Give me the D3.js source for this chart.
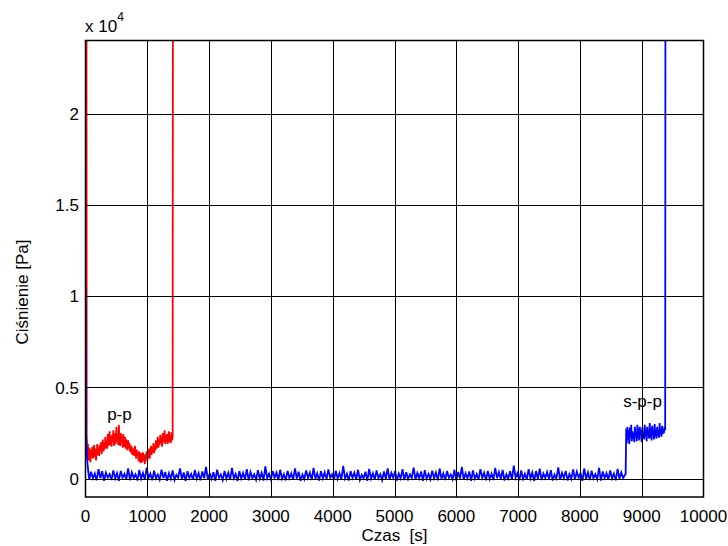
<!DOCTYPE html>
<html>
<head>
<meta charset="utf-8">
<script src="https://cdn.jsdelivr.net/npm/d3@7"></script>
<style>
  body { margin: 0; background: #fff; }
  text { font-family: "Liberation Sans", Arial, sans-serif; fill: #000; }
</style>
</head>
<body>
<svg id="chart"></svg>
<script>
// axis ticks
const xTicks = [0, 1000, 2000, 3000, 4000, 5000, 6000, 7000, 8000, 9000, 10000];
const yTicks = [0, 5000, 10000, 15000, 20000];
const yTickLabels = ['0', '0.5', '1', '1.5', '2'];

// red run (p-p): spike at start, noisy trace sampled every 10 s from t=20, spike at end
const redHead = [[10, 60000]];
const redStart = 20, redStep = 10;
const redValues = [
  2400, 1300, 1900, 1000, 1700, 1150, 900, 1600, 1200, 1750,
  1100, 1500, 1850, 1200, 1650, 1000, 1400, 1900, 1300, 1700,
  1250, 1850, 1500, 2000, 1350, 1750, 2150, 1500, 1950, 1600,
  2300, 1700, 2100, 1650, 2450, 1800, 2200, 2600, 1850, 2300,
  1750, 2400, 2050, 2650, 1800, 2250, 2500, 1900, 2850, 2050,
  2400, 1850, 2950, 2100, 1800, 2500, 2000, 2350, 1700, 2450,
  2050, 1750, 2300, 1650, 2150, 1900, 1550, 2100, 1700, 1950,
  1500, 1850, 1400, 1750, 1300, 1650, 1500, 1250, 1800, 1350,
  1100, 1600, 1250, 1450, 950, 1500, 1150, 850, 1400, 1200,
  900, 1450, 1050, 1300, 800, 1350, 1100, 1500, 950, 1400,
  1200, 1650, 1100, 1550, 1800, 1300, 1700, 1450, 1950, 1400,
  1800, 1550, 2100, 1650, 1950, 2300, 1700, 2150, 1850, 2400,
  1950, 2250, 1750, 2500, 2000, 2200, 2650, 1900, 2350, 2050,
  2450, 1900, 2300, 2600, 2000, 2350, 1950, 2550, 2100, 2300
];
const redTail = [[1420, 60000]];

// blue run (s-p-p): start transient, low baseline every 30 s, raised section every 10 s, spike at end
const blueHead = [[0, 10500], [10, 2200], [20, 1500], [30, 900], [45, 400]];
const blueBaseStart = 60, blueBaseStep = 30;
const blueBaseValues = [
  -60, 380, 20, 290, -90, 520, 30, 410, -110, 330, 60, 250, -70, 460, 10, 300, -120, 430, 50, 270,
  -30, 560, -80, 350, 40, 240, -100, 480, 0, 320, -60, 610, 50, 280, -90, 440, 20, 230, -50, 500,
  30, 370, -110, 300, -10, 450, -70, 220, 60, 570, -40, 340, -120, 410, 40, 260, -60, 480, 10, 310,
  -90, 400, 20, 650, -40, 290, -10, 360, -110, 500, 50, 230, -70, 430, 0, 330, -50, 590, 30, 260,
  -120, 410, 10, 310, -30, 530, -90, 370, 40, 240, -60, 470, 0, 320, -100, 680, 20, 280, -40, 420,
  50, 340, -70, 490, -10, 250, -90, 430, 30, 300, -50, 560, 10, 380, -120, 230, -20, 460, 40, 330,
  -70, 600, 0, 290, -100, 410, 20, 350, -40, 510, 50, 240, -80, 440, -10, 310, -60, 700, 10, 270,
  -100, 420, 40, 330, -30, 490, -70, 220, 20, 380, -120, 540, 0, 300, -60, 450, 30, 250, -80, 400,
  -10, 570, -50, 320, 50, 430, -100, 280, 10, 520, -70, 360, -20, 240, 40, 610, -60, 310, 20, 400,
  -120, 470, 0, 260, -40, 440, 30, 340, -90, 560, -10, 290, -70, 420, 50, 230, -30, 490, -100, 370,
  10, 650, -60, 300, 20, 400, -110, 460, 0, 250, -50, 530, 40, 330, -90, 430, -10, 280, -70, 590,
  30, 360, -30, 480, -100, 240, 10, 410, -60, 720, 50, 310, -90, 450, -10, 270, -50, 520, 20, 340,
  -120, 420, 0, 550, -70, 290, 40, 370, -20, 470, -100, 230, 10, 620, -60, 320, 30, 430, -90, 260,
  -10, 510, -50, 380, 50, 300, -110, 560, 0, 340, -70, 440, 20, 250, -30, 600, -100, 400, 40, 310,
  -60, 460, 10, 280, -90, 540, -10, 350, 30, 230
];
const blueJump = [[8740, 250]];
const blueHighStart = 8750, blueHighStep = 10;
const blueHighValues = [
  2750, 1950, 2850, 2100, 2650, 1900, 2800, 2250, 2950, 2050,
  2600, 2200, 2500, 2000, 2850, 2300, 2550, 2050, 2950, 2200,
  2750, 2100, 2850, 2400, 2650, 2000, 2800, 2250, 2550, 2150,
  2950, 2300, 2700, 2050, 2850, 2400, 2600, 2200, 3050, 2250,
  2750, 2100, 2900, 2450, 2600, 2150, 3000, 2300, 2700, 2200,
  2850, 2350, 2650, 2250, 3050, 2400, 2750, 2300, 2900, 2450,
  2700, 2500, 2850, 2650
];
const blueTail = [[9390, 60000]];

// text annotations
const annotations = [
  { text: 'p-p', t: 350, v: 3200 },
  { text: 's-p-p', t: 8700, v: 3950 }
];

// layout
const W = 728, H = 546;
const plotLeft = 85.5, plotRight = 703.5, plotTop = 40.5, plotBottom = 497;
const fontSize = 17;

const svg = d3.select('#chart').attr('width', W).attr('height', H);

const x = d3.scaleLinear().domain([0, 10000]).range([plotLeft, plotRight]);
const y = d3.scaleLinear().domain([-1000, 24000]).range([plotBottom, plotTop]);

const sampled = (start, step, vals) => vals.map((v, i) => [start + i * step, v]);
const redData = [...redHead, ...sampled(redStart, redStep, redValues), ...redTail];
const blueData = [...blueHead, ...sampled(blueBaseStart, blueBaseStep, blueBaseValues),
  ...blueJump, ...sampled(blueHighStart, blueHighStep, blueHighValues), ...blueTail];

svg.append('defs').append('clipPath').attr('id', 'plot-clip')
  .append('rect')
  .attr('x', plotLeft).attr('y', plotTop)
  .attr('width', plotRight - plotLeft).attr('height', plotBottom - plotTop);

const line = d3.line().x(d => x(d[0])).y(d => y(d[1]));

const plot = svg.append('g').attr('clip-path', 'url(#plot-clip)');

plot.append('path').datum(redData)
  .attr('d', line).attr('fill', 'none')
  .attr('stroke', '#ff0000').attr('stroke-width', 1.8)
  .attr('stroke-linejoin', 'miter');

plot.append('path').datum(blueData)
  .attr('d', line).attr('fill', 'none')
  .attr('stroke', '#0000ff').attr('stroke-width', 1.8)
  .attr('stroke-linejoin', 'miter');

// annotations
svg.selectAll('.note')
  .data(annotations)
  .enter()
  .append('text')
  .attr('class', 'note')
  .attr('x', d => x(d.t))
  .attr('y', d => y(d.v))
  .attr('font-size', fontSize)
  .text(d => d.text);

// grid (drawn over the traces)
const grid = svg.append('g').attr('stroke', '#000').attr('stroke-width', 1);
grid.selectAll('.vgrid')
  .data(xTicks.slice(1, -1))
  .enter()
  .append('line')
  .attr('x1', d => Math.round(x(d)) + 0.5).attr('x2', d => Math.round(x(d)) + 0.5)
  .attr('y1', plotTop).attr('y2', plotBottom);
grid.selectAll('.hgrid')
  .data(yTicks)
  .enter()
  .append('line')
  .attr('y1', d => Math.round(y(d)) + 0.5).attr('y2', d => Math.round(y(d)) + 0.5)
  .attr('x1', plotLeft).attr('x2', plotRight);

// frame
svg.append('rect')
  .attr('x', plotLeft).attr('y', plotTop)
  .attr('width', plotRight - plotLeft).attr('height', plotBottom - plotTop)
  .attr('fill', 'none').attr('stroke', '#000').attr('stroke-width', 1.5);

// tick labels
svg.selectAll('.xtick')
  .data(xTicks)
  .enter()
  .append('text')
  .attr('x', d => x(d))
  .attr('y', 522)
  .attr('text-anchor', 'middle')
  .attr('font-size', fontSize)
  .text(d => d);

svg.selectAll('.ytick')
  .data(yTicks)
  .enter()
  .append('text')
  .attr('x', 79)
  .attr('y', d => y(d))
  .attr('dy', '0.36em')
  .attr('text-anchor', 'end')
  .attr('font-size', fontSize)
  .text((d, i) => yTickLabels[i]);

// exponent
const expo = svg.append('text').attr('x', 85).attr('y', 32).attr('font-size', fontSize);
expo.append('tspan').text('x 10');
expo.append('tspan').attr('dy', -11).attr('font-size', 12).text('4');

// axis titles
svg.append('text')
  .attr('x', (plotLeft + plotRight) / 2).attr('y', 541)
  .attr('text-anchor', 'middle').attr('font-size', fontSize)
  .style('white-space', 'pre')
  .text('Czas  [s]');

svg.append('text')
  .attr('transform', 'translate(28,292) rotate(-90)')
  .attr('text-anchor', 'middle').attr('font-size', fontSize)
  .text('Ciśnienie [Pa]');
</script>
</body>
</html>
